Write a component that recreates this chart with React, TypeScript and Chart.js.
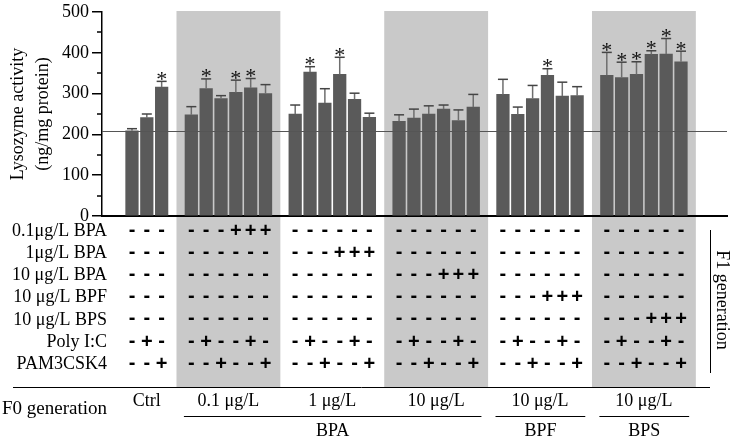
import React, { useEffect, useRef } from "react";
import { Chart, registerables } from "chart.js";

Chart.register(...registerables);

// ---------- data ----------
const groupLabels = ["Ctrl", "0.1 μg/L", "1 μg/L", "10 μg/L", "10 μg/L", "10 μg/L"];
const means = [
  [209, 241, 316],
  [248, 312, 288, 303, 314, 300],
  [250, 353, 277, 347, 286, 242],
  [232, 240, 250, 262, 234, 267],
  [298, 249, 288, 345, 294, 295],
  [345, 339, 347, 396, 397, 378],
];
const errors = [
  [5, 9, 14],
  [20, 24, 7, 30, 23, 22],
  [22, 13, 35, 42, 15, 10],
  [16, 22, 20, 10, 26, 31],
  [37, 18, 32, 16, 34, 22],
  [56, 38, 31, 9, 38, 26],
];
const significant = [
  [0, 0, 1],
  [0, 1, 0, 1, 1, 0],
  [0, 1, 0, 1, 0, 0],
  [0, 0, 0, 0, 0, 0],
  [0, 0, 0, 1, 0, 0],
  [1, 1, 1, 1, 1, 1],
];
const shadedGroups = [1, 3, 5];
const controlLevel = 208;
const yTickValues = [0, 100, 200, 300, 400, 500];
const yMinorValues = [50, 150, 250, 350, 450];

const rowLabels = ["0.1μg/L BPA", "1μg/L BPA", "10 μg/L BPA", "10 μg/L BPF", "10 μg/L BPS", "Poly I:C", "PAM3CSK4"];
const treatmentRows = [
  ["---", "---+++", "------", "------", "------", "------"],
  ["---", "------", "---+++", "------", "------", "------"],
  ["---", "------", "------", "---+++", "------", "------"],
  ["---", "------", "------", "------", "---+++", "------"],
  ["---", "------", "------", "------", "------", "---+++"],
  ["-+-", "-+--+-", "-+--+-", "-+--+-", "-+--+-", "-+--+-"],
  ["--+", "--+--+", "--+--+", "--+--+", "--+--+", "--+--+"],
];
const compoundNames = ["BPA", "BPF", "BPS"];
const compoundFirstGroup = [1, 4, 5];
const compoundLastGroup = [3, 4, 5];

// ---------- derived slot positions (one empty slot between groups) ----------
const groupStart: number[] = [];
{
  let s = 0;
  means.forEach((g) => {
    groupStart.push(s);
    s += g.length + 1;
  });
}
const points: { x: number; y: number; g: number; i: number }[] = [];
means.forEach((g, gi) =>
  g.forEach((v, i) => points.push({ x: groupStart[gi] + i, y: v, g: gi, i }))
);

const SERIF = "'Liberation Serif', 'Times New Roman', serif";
const SANS = "'Liberation Sans', Arial, sans-serif";

const decor = {
  id: "decor",
  beforeDraw(chart: any) {
    const { ctx, scales } = chart;
    const x = scales.x;
    const y = scales.y;
    ctx.save();
    ctx.fillStyle = "#c9c9c9";
    const top = y.getPixelForValue(500) - 1;
    shadedGroups.forEach((g) => {
      const x0 = x.getPixelForValue(groupStart[g] - 1);
      const x1 = x.getPixelForValue(groupStart[g] + means[g].length);
      ctx.fillRect(x0, top, x1 - x0, 387.5 - top);
    });
    ctx.restore();
  },
  afterDatasetsDraw(chart: any) {
    const { ctx, scales, chartArea } = chart;
    const x = scales.x;
    const y = scales.y;
    ctx.save();
    // control reference line
    ctx.strokeStyle = "#555";
    ctx.lineWidth = 1;
    const yc = Math.round(y.getPixelForValue(controlLevel)) + 0.5;
    ctx.beginPath();
    ctx.moveTo(chartArea.left, yc);
    ctx.lineTo(chartArea.right, yc);
    ctx.stroke();
    // error bars + stars
    points.forEach((p) => {
      const px = x.getPixelForValue(p.x);
      const yb = y.getPixelForValue(p.y);
      const ye = y.getPixelForValue(p.y + errors[p.g][p.i]);
      ctx.strokeStyle = "#6e6e6e";
      ctx.lineWidth = 1.5;
      ctx.beginPath();
      ctx.moveTo(px, yb);
      ctx.lineTo(px, ye);
      ctx.stroke();
      ctx.strokeStyle = "#444";
      ctx.beginPath();
      ctx.moveTo(px - 5, ye);
      ctx.lineTo(px + 5, ye);
      ctx.stroke();
      if (significant[p.g][p.i]) {
        ctx.font = `22px ${SERIF}`;
        ctx.fillStyle = "#111";
        ctx.textAlign = "center";
        ctx.textBaseline = "alphabetic";
        const m = ctx.measureText("*");
        const d = m.actualBoundingBoxDescent || -5;
        ctx.fillText("*", px, ye - 1.5 - d);
      }
    });
    ctx.restore();
  },
  afterDraw(chart: any) {
    const { ctx, scales } = chart;
    const x = scales.x;
    const y = scales.y;
    ctx.save();
    // minor ticks
    ctx.strokeStyle = "#000";
    ctx.lineWidth = 1.5;
    yMinorValues.forEach((v) => {
      const py = Math.round(y.getPixelForValue(v));
      ctx.beginPath();
      ctx.moveTo(y.right - 5, py);
      ctx.lineTo(y.right, py);
      ctx.stroke();
    });
    // treatment table
    const rowY0 = 231;
    const rowStep = 22.2;
    ctx.fillStyle = "#000";
    rowLabels.forEach((lab, r) => {
      const ry = rowY0 + r * rowStep;
      ctx.font = `18px ${SERIF}`;
      ctx.textAlign = "right";
      ctx.textBaseline = "middle";
      ctx.fillText(lab, 107, ry);
      ctx.font = `bold 20px ${SANS}`;
      ctx.textAlign = "center";
      treatmentRows[r].forEach((s, g) => {
        s.split("").forEach((c, i) => {
          const px = x.getPixelForValue(groupStart[g] + i);
          ctx.fillText(c === "-" ? "-" : "+", px, c === "-" ? ry - 1 : ry);
        });
      });
    });
    // table lines
    ctx.strokeStyle = "#000";
    ctx.lineWidth = 1;
    ctx.beginPath();
    ctx.moveTo(13, 387.5);
    ctx.lineTo(710, 387.5);
    ctx.stroke();
    ctx.beginPath();
    ctx.moveTo(710.5, 230);
    ctx.lineTo(710.5, 373);
    ctx.stroke();
    // F1 generation
    ctx.save();
    ctx.translate(722, 300);
    ctx.rotate(Math.PI / 2);
    ctx.font = `18px ${SERIF}`;
    ctx.textAlign = "center";
    ctx.textBaseline = "middle";
    ctx.fillText("F1 generation", 0, 0);
    ctx.restore();
    // F0 row
    ctx.font = `19px ${SERIF}`;
    ctx.textAlign = "left";
    ctx.textBaseline = "middle";
    ctx.fillText("F0 generation", 2, 409);
    ctx.font = `18px ${SERIF}`;
    ctx.textAlign = "center";
    groupLabels.forEach((lab, g) => {
      const cx = (x.getPixelForValue(groupStart[g]) + x.getPixelForValue(groupStart[g] + means[g].length - 1)) / 2;
      ctx.fillText(lab, cx, 401);
    });
    compoundNames.forEach((name, k) => {
      const g0 = compoundFirstGroup[k];
      const g1 = compoundLastGroup[k];
      const x0 = x.getPixelForValue(groupStart[g0] - 0.5);
      const x1 = x.getPixelForValue(groupStart[g1] + means[g1].length - 1 + 0.55);
      ctx.beginPath();
      ctx.moveTo(x0, 416.5);
      ctx.lineTo(x1, 416.5);
      ctx.stroke();
      ctx.fillText(name, (x0 + x1) / 2, 431);
    });
    ctx.restore();
  },
};

export default function App() {
  const ref = useRef<HTMLCanvasElement | null>(null);
  useEffect(() => {
    if (!ref.current) return;
    const chart = new Chart(ref.current, {
      type: "bar",
      data: {
        datasets: [
          {
            data: points.map((p) => ({ x: p.x, y: p.y })),
            backgroundColor: "#5a5a5a",
            borderWidth: 0,
            barThickness: 12.6,
          },
        ],
      },
      options: {
        animation: false,
        responsive: false,
        devicePixelRatio: 1,
        layout: { padding: { left: 0, right: 7, top: 9, bottom: 222 } },
        plugins: { legend: { display: false }, tooltip: { enabled: false } },
        scales: {
          x: {
            type: "linear",
            offset: false,
            min: -2.02,
            max: 40.1,
            ticks: { display: false },
            grid: { display: false, drawTicks: false, offset: false },
            border: { display: true, color: "#000", width: 2 },
            afterFit: (s: any) => {
              s.height = 0;
            },
          },
          y: {
            min: 0,
            max: 500,
            afterBuildTicks: (s: any) => {
              s.ticks = yTickValues.map((v) => ({ value: v }));
            },
            ticks: {
              color: "#000",
              padding: 3,
              font: { family: SERIF, size: 18, lineHeight: 1 },
            },
            grid: {
              display: true,
              drawOnChartArea: false,
              drawTicks: true,
              tickLength: 10,
              color: "#000",
              lineWidth: 1.5,
            },
            border: { display: true, color: "#000", width: 1.5 },
            title: {
              display: true,
              text: ["Lysozyme activity", "(ng/mg protein)"],
              color: "#000",
              font: { family: SERIF, size: 18, lineHeight: 1.4 },
              padding: { top: 5.5, bottom: 0 },
            },
            afterFit: (s: any) => {
              s.width = 102;
            },
          },
        },
      },
      plugins: [decor],
    } as any);
    return () => chart.destroy();
  }, []);
  return (
    <div style={{ position: "absolute", left: 0, top: 0, width: 734, height: 438, background: "#fff" }}>
      <canvas ref={ref} width={734} height={438} style={{ display: "block" }} />
    </div>
  );
}
